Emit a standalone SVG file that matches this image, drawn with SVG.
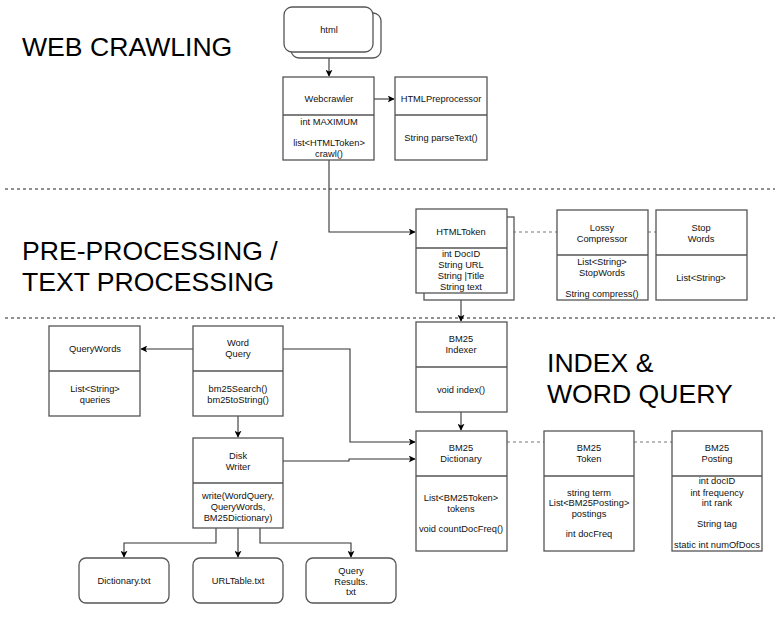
<svg xmlns="http://www.w3.org/2000/svg" width="776" height="620" viewBox="0 0 776 620">
<defs>
<marker id="arr" viewBox="0 0 10 10" refX="9" refY="5" markerWidth="7" markerHeight="7" markerUnits="userSpaceOnUse" orient="auto">
<path d="M0,0 L10,5 L0,10 L2.5,5 Z" fill="#000"/>
</marker>
<style>
.box{fill:#fff;stroke:#555;stroke-width:1.3}
.t{font-family:"Liberation Sans",Arial,sans-serif;font-size:9.3px;fill:#111;text-anchor:middle}
.title{font-family:"Liberation Sans",Arial,sans-serif;font-size:26.6px;fill:#000}
.conn{fill:none;stroke:#333;stroke-width:1.1}
.dash{fill:none;stroke:#777;stroke-width:1.2;stroke-dasharray:3,3}
.sep{fill:none;stroke:#222;stroke-width:1;stroke-dasharray:3,3}
</style>
</defs>
<rect width="776" height="620" fill="#fff"/>

<g id="titles">
<text class="title" x="22" y="56">WEB CRAWLING</text>
<text class="title" x="22" y="260">PRE-PROCESSING /</text>
<text class="title" x="22" y="291">TEXT PROCESSING</text>
<text class="title" x="547" y="372">INDEX &amp;</text>
<text class="title" x="547" y="403">WORD QUERY</text>
</g>

<g id="separators">
<line class="sep" x1="5" y1="189" x2="775" y2="189"/>
<line class="sep" x1="5" y1="318" x2="775" y2="318"/>
</g>

<g id="connectors">
<path class="conn" d="M329 52 L329 76" marker-end="url(#arr)"/>
<path class="conn" d="M374 99 L394 99" marker-end="url(#arr)"/>
<path class="conn" d="M329 160 L329 232 L415 232" marker-end="url(#arr)"/>
<path class="dash" d="M507 232 L557 232"/>
<path class="dash" d="M648 232 L656 232"/>
<path class="conn" d="M461 293 L461 321" marker-end="url(#arr)"/>
<path class="conn" d="M461 412 L461 430" marker-end="url(#arr)"/>
<path class="dash" d="M507 442 L544 442"/>
<path class="dash" d="M634 442 L672 442"/>
<path class="conn" d="M193 349 L141 349" marker-end="url(#arr)"/>
<path class="conn" d="M283 349 L350 349 L350 442 L415 442" marker-end="url(#arr)"/>
<path class="conn" d="M283 461 L349 461 L349 459 L415 459" marker-end="url(#arr)"/>
<path class="conn" d="M238 416 L238 437" marker-end="url(#arr)"/>
<path class="conn" d="M216 528 L216 543 L124 543 L124 557" marker-end="url(#arr)"/>
<path class="conn" d="M238 528 L238 557" marker-end="url(#arr)"/>
<path class="conn" d="M260 528 L260 543 L351 543 L351 557" marker-end="url(#arr)"/>
</g>

<g id="html">
<rect class="box" x="291" y="13" width="90" height="45" rx="8"/>
<rect class="box" x="284" y="7" width="89" height="45" rx="8"/>
<text class="t" x="329" y="33">html</text>
</g>

<g id="webcrawler">
<rect class="box" x="283" y="77" width="91" height="83"/>
<line class="box" x1="283" y1="115" x2="374" y2="115"/>
<text class="t" x="329" y="102">Webcrawler</text>
<text class="t" x="329" y="125">int MAXIMUM</text>
<text class="t" x="329" y="146">list&lt;HTMLToken&gt;</text>
<text class="t" x="329" y="157">crawl()</text>
</g>

<g id="htmlpreprocessor">
<rect class="box" x="395" y="77" width="92" height="83"/>
<line class="box" x1="395" y1="115" x2="487" y2="115"/>
<text class="t" x="441" y="102">HTMLPreprocessor</text>
<text class="t" x="441" y="141">String parseText()</text>
</g>

<g id="htmltoken">
<rect class="box" x="424" y="217" width="90" height="83"/>
<rect class="box" x="416" y="209" width="91" height="84"/>
<line class="box" x1="416" y1="248" x2="507" y2="248"/>
<text class="t" x="461" y="235">HTMLToken</text>
<text class="t" x="461" y="257">int DocID</text>
<text class="t" x="461" y="268">String URL</text>
<text class="t" x="461" y="279">String |Title</text>
<text class="t" x="461" y="290">String text</text>
</g>

<g id="lossycompressor">
<rect class="box" x="557" y="210" width="91" height="90"/>
<line class="box" x1="557" y1="255" x2="648" y2="255"/>
<text class="t" x="602" y="231">Lossy</text>
<text class="t" x="602" y="242">Compressor</text>
<text class="t" x="602" y="265">List&lt;String&gt;</text>
<text class="t" x="602" y="276">StopWords</text>
<text class="t" x="602" y="297">String compress()</text>
</g>

<g id="stopwords">
<rect class="box" x="656" y="210" width="91" height="90"/>
<line class="box" x1="656" y1="255" x2="747" y2="255"/>
<text class="t" x="701" y="231">Stop</text>
<text class="t" x="701" y="242">Words</text>
<text class="t" x="701" y="281">List&lt;String&gt;</text>
</g>

<g id="querywords">
<rect class="box" x="49" y="326" width="91" height="90"/>
<line class="box" x1="49" y1="371" x2="140" y2="371"/>
<text class="t" x="95" y="352">QueryWords</text>
<text class="t" x="95" y="392">List&lt;String&gt;</text>
<text class="t" x="95" y="403">queries</text>
</g>

<g id="wordquery">
<rect class="box" x="193" y="326" width="90" height="90"/>
<line class="box" x1="193" y1="371" x2="283" y2="371"/>
<text class="t" x="238" y="346">Word</text>
<text class="t" x="238" y="357">Query</text>
<text class="t" x="238" y="392">bm25Search()</text>
<text class="t" x="238" y="403">bm25toString()</text>
</g>

<g id="diskwriter">
<rect class="box" x="193" y="438" width="90" height="90"/>
<line class="box" x1="193" y1="483" x2="283" y2="483"/>
<text class="t" x="238" y="459">Disk</text>
<text class="t" x="238" y="470">Writer</text>
<text class="t" x="238" y="499">write(WordQuery,</text>
<text class="t" x="238" y="510">QueryWords,</text>
<text class="t" x="238" y="521">BM25Dictionary)</text>
</g>

<g id="bm25indexer">
<rect class="box" x="416" y="322" width="91" height="90"/>
<line class="box" x1="416" y1="367" x2="507" y2="367"/>
<text class="t" x="461" y="342">BM25</text>
<text class="t" x="461" y="353">Indexer</text>
<text class="t" x="461" y="393">void index()</text>
</g>

<g id="bm25dictionary">
<rect class="box" x="416" y="431" width="91" height="120"/>
<line class="box" x1="416" y1="476" x2="507" y2="476"/>
<text class="t" x="461" y="451">BM25</text>
<text class="t" x="461" y="462">Dictionary</text>
<text class="t" x="461" y="501">List&lt;BM25Token&gt;</text>
<text class="t" x="461" y="512">tokens</text>
<text class="t" x="461" y="532">void countDocFreq()</text>
</g>

<g id="bm25token">
<rect class="box" x="544" y="431" width="90" height="120"/>
<line class="box" x1="544" y1="476" x2="634" y2="476"/>
<text class="t" x="589" y="451">BM25</text>
<text class="t" x="589" y="462">Token</text>
<text class="t" x="589" y="496">string term</text>
<text class="t" x="589" y="506">List&lt;BM25Posting&gt;</text>
<text class="t" x="589" y="517">postings</text>
<text class="t" x="589" y="537">int docFreq</text>
</g>

<g id="bm25posting">
<rect class="box" x="672" y="431" width="90" height="120"/>
<line class="box" x1="672" y1="476" x2="762" y2="476"/>
<text class="t" x="717" y="451">BM25</text>
<text class="t" x="717" y="462">Posting</text>
<text class="t" x="717" y="484">int docID</text>
<text class="t" x="717" y="496">int frequency</text>
<text class="t" x="717" y="506">int rank</text>
<text class="t" x="717" y="527">String tag</text>
<text class="t" x="717" y="548">static int numOfDocs</text>
</g>

<g id="dictionarytxt">
<rect class="box" x="79" y="558" width="90" height="45" rx="7"/>
<text class="t" x="124" y="584">Dictionary.txt</text>
</g>

<g id="urltabletxt">
<rect class="box" x="193" y="558" width="90" height="45" rx="7"/>
<text class="t" x="238" y="584">URLTable.txt</text>
</g>

<g id="queryresultstxt">
<rect class="box" x="306" y="558" width="90" height="45" rx="7"/>
<text class="t" x="351" y="574">Query</text>
<text class="t" x="351" y="585">Results.</text>
<text class="t" x="351" y="595">txt</text>
</g>
</svg>
